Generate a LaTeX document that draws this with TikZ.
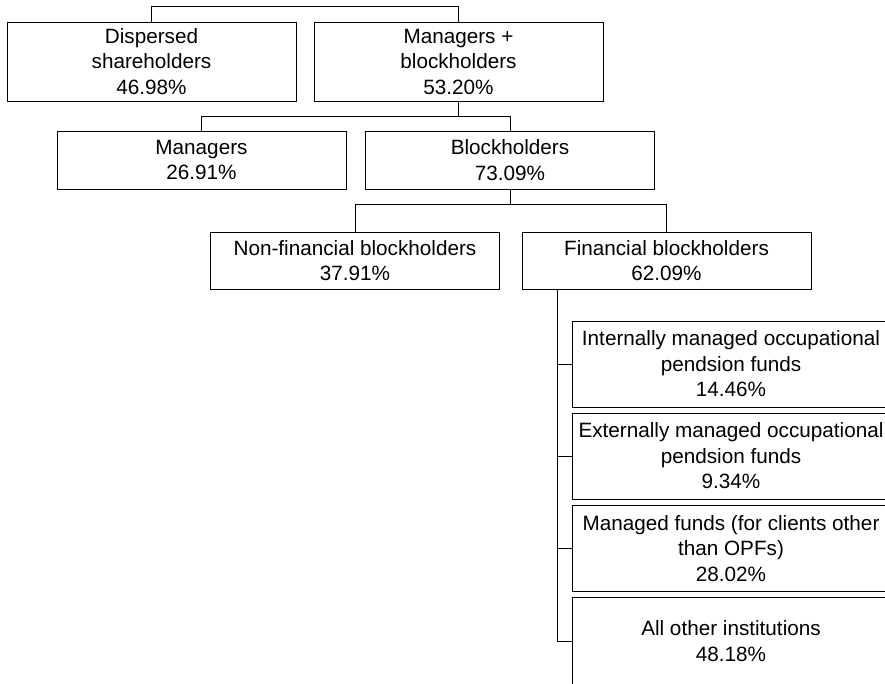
\documentclass[tikz,border=0pt]{standalone}
\usepackage{fontspec}
\setmainfont{Liberation Sans}
\begin{document}
\begin{tikzpicture}[x=1pt,y=-1pt,line width=0.9pt,
    holder/.style={draw,align=center,inner sep=0pt,minimum width=289pt,minimum height=58pt,
      font=\fontsize{20.7}{25.5}\selectfont},
    fund/.style={holder,minimum width=318pt,minimum height=86pt}]
      \useasboundingbox (0,0) rectangle (885,683);
      \clip (0,0) rectangle (885,683);
      \node[holder,minimum height=79pt] (disp) at (151.5,61.5) {Dispersed\\shareholders\\46.98\%};
      \node[holder,minimum height=79pt] (mgrblk) at (458.5,61.5) {Managers +\\blockholders\\53.20\%};
      \node[holder] (mgr) at (201.5,160) {Managers\\26.91\%};
      \node[holder] (blk) at (510,160) {Blockholders\\73.09\%};
      \node[holder,minimum height=57pt] (nonfin) at (355,260.5) {Non-financial blockholders\\37.91\%};
      \node[holder,minimum height=57pt] (fin) at (666.5,260.5) {Financial blockholders\\62.09\%};
      \node[fund] (intl) at (731,364) {Internally managed occupational\\pendsion funds\\14.46\%};
      \node[fund] (extl) at (731,456) {Externally managed occupational\\pendsion funds\\9.34\%};
      \node[fund] (mfund) at (731,548.5) {Managed funds (for clients other\\than OPFs)\\28.02\%};
      \node[fund,minimum height=88pt] (other) at (731,641) {All other institutions\\48.18\%};
      \begin{scope}[-]
        \draw (disp.north) -- ++(0,-15) -| (mgrblk.north);
        \draw (mgrblk.south) -- ++(0,15) coordinate (mb);
        \draw (mgr.north) |- (mb) -| (blk.north);
        \draw (blk.south) -- ++(0,15) coordinate (bb);
        \draw (nonfin.north) |- (bb) -| (fin.north);
        \coordinate (trunk) at ([xshift=36pt]fin.south west);
        \draw (trunk) |- (other.west);
        \foreach \f in {intl,extl,mfund}
          \draw (trunk |- \f.west) -- (\f.west);
      \end{scope}
    \end{tikzpicture}
\end{document}
